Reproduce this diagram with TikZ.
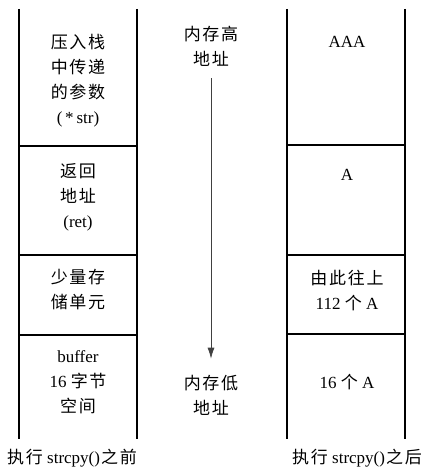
\documentclass[tikz,border=0pt]{standalone}
\usepackage{fontspec}
\setmainfont{Liberation Serif}
\newfontfamily\cjk[LetterSpace=10]{Noto Sans CJK SC}
\usetikzlibrary{arrows.meta}
\begin{document}
\begin{tikzpicture}[x=1pt,y=-1pt,
  font=\fontsize{17}{25}\selectfont,
  txt/.style={align=center, inner sep=0pt},
  vline/.style={line width=1.8pt},
  hline/.style={line width=1.4pt},
  memarrow/.style={line width=0.7pt, draw=black!75, -{Latex[length=11pt,width=7pt]}}]
\useasboundingbox (0,0) rectangle (435,470);
% left stack
\draw[vline] (19,9) -- (19,439);
\draw[vline] (137,9) -- (137,439);
\draw[hline] (19,146) -- (137,146);
\draw[hline] (19,255) -- (137,255);
\draw[hline] (19,335) -- (137,335);
% right stack
\draw[vline] (287,9) -- (287,439);
\draw[vline] (405,9) -- (405,439);
\draw[hline] (287,145) -- (405,145);
\draw[hline] (287,255) -- (405,255);
\draw[hline] (287,334) -- (405,334);
% left texts
\node[txt] (l1) at (78,81) {{\cjk 压入栈}\\{\cjk 中传递}\\{\cjk 的参数}\\(\,*\,str)};
\node[txt] (l2) at (78,197) {{\cjk 返回}\\{\cjk 地址}\\(ret)};
\node[txt] (l3) at (78,290) {{\cjk 少量存}\\{\cjk 储单元}};
\node[txt] (l4) at (78,382) {buffer\\16 {\cjk 字节}\\{\cjk 空间}};
% middle
\node[txt] (hi) at (211,46) {{\cjk 内存高}\\{\cjk 地址}};
\node[txt] (lo) at (211,395) {{\cjk 内存低}\\{\cjk 地址}};
\draw[memarrow] ([yshift=-12pt]hi.south) -- ([yshift=16pt]lo.north);
% right texts
\node[txt] (r1) at (347,42) {AAA};
\node[txt] (r2) at (347,175) {A};
\node[txt] (r3) at (347,290) {{\cjk 由此往上}\\112 {\cjk 个} A};
\node[txt] (r4) at (347,382) {16 {\cjk 个} A};
% captions
\node[txt] (c1) at (72,458) {{\cjk 执行} strcpy()\kern1pt{\cjk 之前}};
\node[txt] (c2) at (357,458) {{\cjk 执行} strcpy()\kern1pt{\cjk 之后}};
\end{tikzpicture}
\end{document}
